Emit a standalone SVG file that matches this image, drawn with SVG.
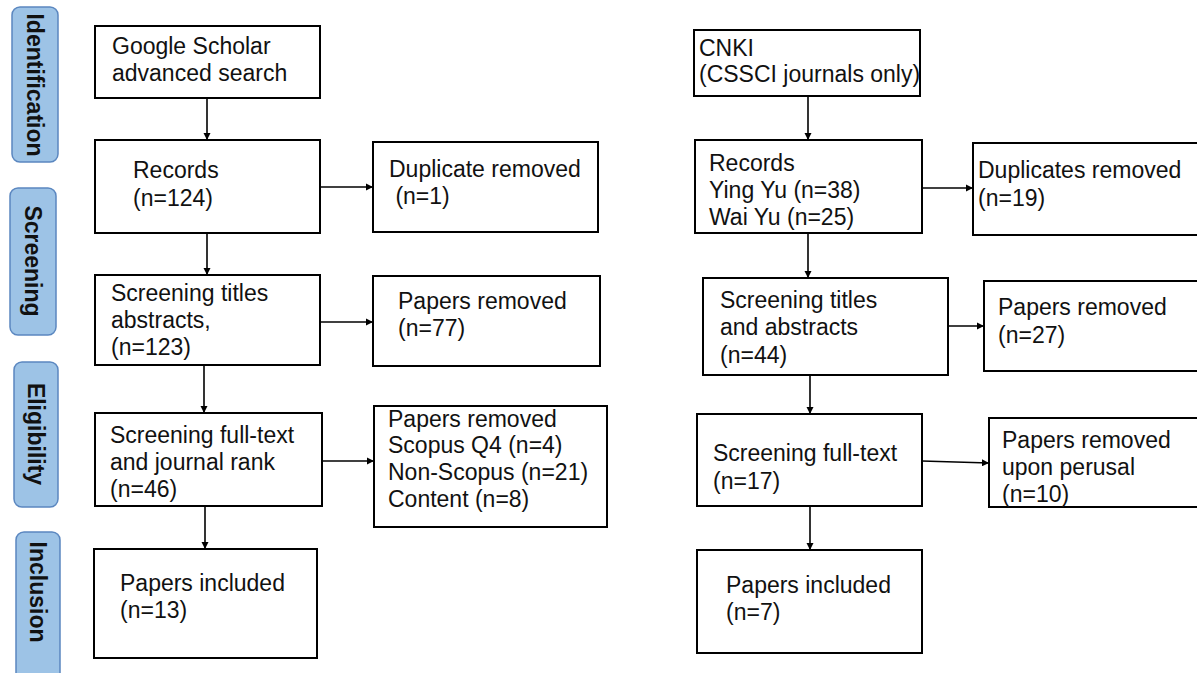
<svg xmlns="http://www.w3.org/2000/svg" width="1197" height="673" viewBox="0 0 1197 673">
<style>
.box{fill:#fff;stroke:#000;stroke-width:2}
.t{font-family:"Liberation Sans",Arial,sans-serif;font-size:23px;fill:#111}
.stage{fill:#9dc3e6;stroke:#5b87c0;stroke-width:1.5}
.st{font-family:"Liberation Sans",Arial,sans-serif;font-size:23px;font-weight:bold;fill:#111}
.c{stroke:#000;stroke-width:1.6;fill:none;marker-end:url(#a)}
</style>
<defs>
<marker id="a" viewBox="0 0 10 10" refX="10" refY="5" markerWidth="4.5" markerHeight="4.5" orient="auto" markerUnits="strokeWidth">
<path d="M0,0 L10,5 L0,10 z" fill="#000"/>
</marker>
</defs>
<rect width="1197" height="673" fill="#fff"/>
<g id="stage-identification"><rect class="stage" x="12" y="7" width="46" height="155" rx="8"/><text class="st" transform="translate(35,85) rotate(90)" text-anchor="middle" dominant-baseline="central">Identification</text></g>
<g id="stage-screening"><rect class="stage" x="10" y="188" width="46" height="147" rx="8"/><text class="st" transform="translate(33,261) rotate(90)" text-anchor="middle" dominant-baseline="central">Screening</text></g>
<g id="stage-eligibility"><rect class="stage" x="14" y="362" width="44" height="145" rx="8"/><text class="st" transform="translate(36,434) rotate(90)" text-anchor="middle" dominant-baseline="central">Eligibility</text></g>
<g id="stage-inclusion"><rect class="stage" x="16" y="532" width="44" height="160" rx="8"/><text class="st" transform="translate(38,592) rotate(90)" text-anchor="middle" dominant-baseline="central">Inclusion</text></g>
<g id="connectors">
<line class="c" x1="207" y1="98" x2="207" y2="140"/>
<line class="c" x1="320" y1="187" x2="373" y2="187"/>
<line class="c" x1="207" y1="233" x2="207" y2="275"/>
<line class="c" x1="320" y1="322" x2="373" y2="322"/>
<line class="c" x1="204" y1="365" x2="204" y2="413"/>
<line class="c" x1="322" y1="461" x2="374" y2="461"/>
<line class="c" x1="205" y1="506" x2="205" y2="549"/>
<line class="c" x1="808" y1="96" x2="808" y2="140"/>
<line class="c" x1="922" y1="188" x2="973" y2="188"/>
<line class="c" x1="808" y1="233" x2="808" y2="278"/>
<line class="c" x1="948" y1="326" x2="984" y2="326"/>
<line class="c" x1="810" y1="375" x2="810" y2="414"/>
<line class="c" x1="922" y1="461" x2="989" y2="463"/>
<line class="c" x1="810" y1="506" x2="810" y2="550"/>
</g>
<g id="google"><rect class="box" x="95" y="26" width="225" height="72"/><text class="t" x="112" y="54">Google Scholar</text><text class="t" x="112" y="81">advanced search</text></g>
<g id="records-l"><rect class="box" x="95" y="140" width="225" height="93"/><text class="t" x="133" y="178">Records</text><text class="t" x="133" y="206">(n=124)</text></g>
<g id="dup-l"><rect class="box" x="373" y="142" width="225" height="90"/><text class="t" x="389" y="177">Duplicate removed</text><text class="t" x="389" y="204" xml:space="preserve"> (n=1)</text></g>
<g id="screen-l"><rect class="box" x="95" y="275" width="225" height="90"/><text class="t" x="111" y="301">Screening titles</text><text class="t" x="111" y="328">abstracts,</text><text class="t" x="111" y="355">(n=123)</text></g>
<g id="removed-l1"><rect class="box" x="373" y="276" width="227" height="90"/><text class="t" x="398" y="309">Papers removed</text><text class="t" x="398" y="336">(n=77)</text></g>
<g id="full-l"><rect class="box" x="95" y="413" width="227" height="93"/><text class="t" x="110" y="443">Screening full-text</text><text class="t" x="110" y="470">and journal rank</text><text class="t" x="110" y="497">(n=46)</text></g>
<g id="removed-l2"><rect class="box" x="374" y="406" width="233" height="121"/><text class="t" x="388" y="427">Papers removed</text><text class="t" x="388" y="453">Scopus Q4 (n=4)</text><text class="t" x="388" y="480">Non-Scopus (n=21)</text><text class="t" x="388" y="507">Content (n=8)</text></g>
<g id="included-l"><rect class="box" x="94" y="549" width="223" height="109"/><text class="t" x="120" y="591">Papers included</text><text class="t" x="120" y="618">(n=13)</text></g>
<g id="cnki"><rect class="box" x="694" y="30" width="226" height="66"/><text class="t" x="699" y="56">CNKI</text><text class="t" x="699" y="82">(CSSCI journals only)</text></g>
<g id="records-r"><rect class="box" x="695" y="140" width="227" height="93"/><text class="t" x="709" y="171">Records</text><text class="t" x="709" y="198">Ying Yu (n=38)</text><text class="t" x="709" y="225">Wai Yu (n=25)</text></g>
<g id="dup-r"><rect class="box" x="973" y="143" width="230" height="92"/><text class="t" x="978" y="178">Duplicates removed</text><text class="t" x="978" y="206">(n=19)</text></g>
<g id="screen-r"><rect class="box" x="703" y="278" width="245" height="97"/><text class="t" x="720" y="308">Screening titles</text><text class="t" x="720" y="335">and abstracts</text><text class="t" x="720" y="363">(n=44)</text></g>
<g id="removed-r1"><rect class="box" x="984" y="281" width="220" height="90"/><text class="t" x="998" y="315">Papers removed</text><text class="t" x="998" y="343">(n=27)</text></g>
<g id="full-r"><rect class="box" x="697" y="414" width="225" height="92"/><text class="t" x="713" y="461">Screening full-text</text><text class="t" x="713" y="489">(n=17)</text></g>
<g id="removed-r2"><rect class="box" x="989" y="418" width="215" height="89"/><text class="t" x="1002" y="448">Papers removed</text><text class="t" x="1002" y="475">upon perusal</text><text class="t" x="1002" y="502">(n=10)</text></g>
<g id="included-r"><rect class="box" x="697" y="550" width="225" height="103"/><text class="t" x="726" y="593">Papers included</text><text class="t" x="726" y="620">(n=7)</text></g>
</svg>
